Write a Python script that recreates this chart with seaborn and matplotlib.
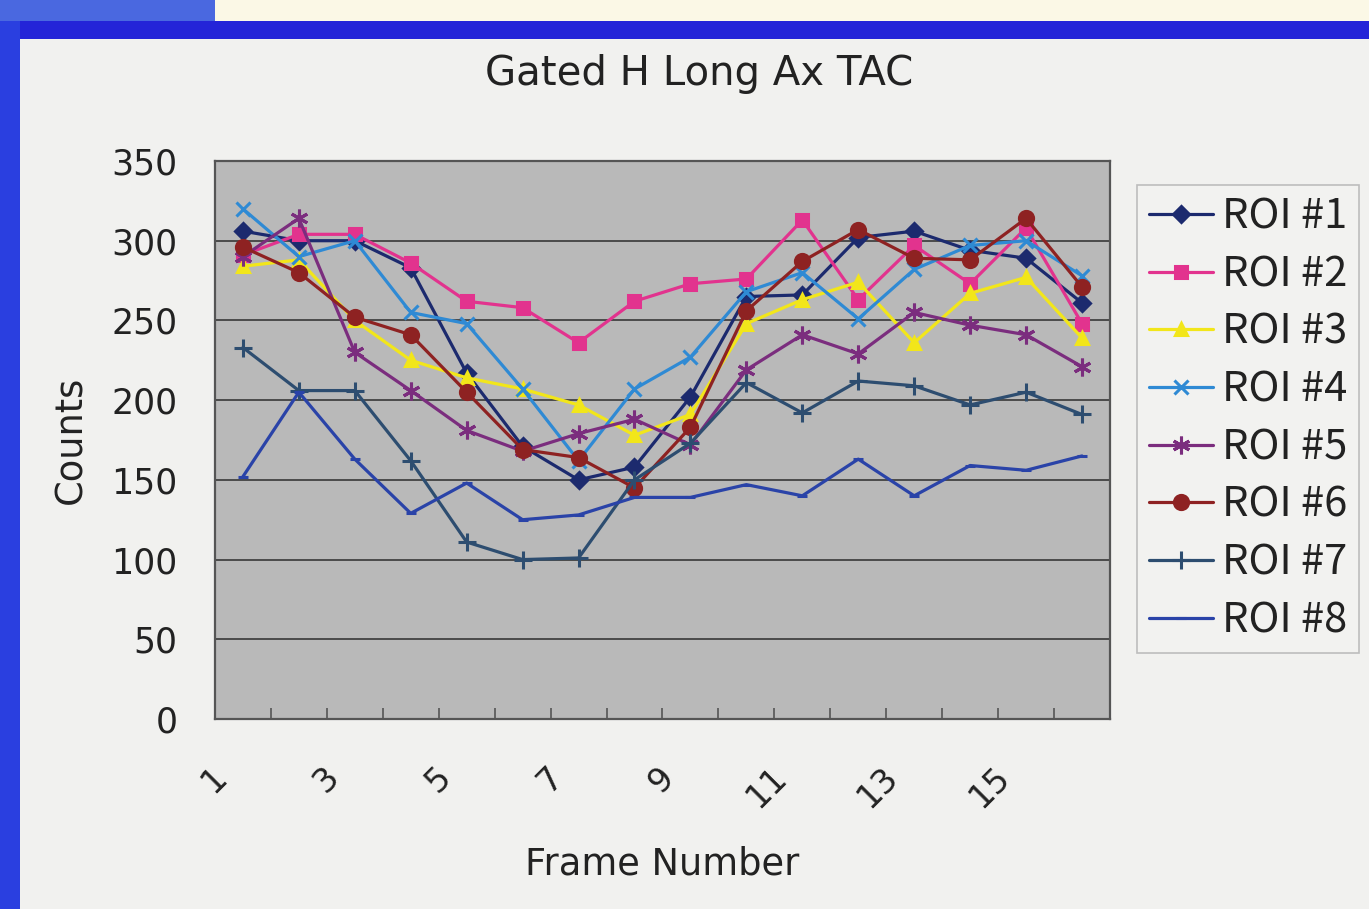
import numpy as np
import pandas as pd
import matplotlib
matplotlib.use("Agg")
import matplotlib.pyplot as plt
import matplotlib.transforms as mtransforms
from matplotlib.patches import Rectangle
import seaborn as sns

frames = list(range(1, 17))
roi1 = [306, 300, 300, 283, 217, 171, 150, 158, 202, 265, 266, 302, 306, 294, 289, 261]
roi2 = [291, 304, 304, 286, 262, 258, 236, 262, 273, 276, 313, 263, 297, 273, 308, 248]
roi3 = [284, 288, 250, 225, 214, 207, 197, 178, 191, 248, 263, 274, 236, 267, 277, 239]
roi4 = [320, 290, 300, 255, 248, 207, 162, 207, 227, 268, 280, 251, 282, 297, 300, 278]
roi5 = [290, 314, 230, 206, 181, 168, 179, 188, 172, 219, 241, 229, 255, 247, 241, 221]
roi6 = [296, 280, 252, 241, 205, 169, 164, 145, 183, 256, 287, 307, 289, 288, 314, 271]
roi7 = [233, 206, 206, 162, 111, 100, 101, 150, 173, 211, 192, 212, 209, 197, 205, 191]
roi8 = [152, 205, 163, 129, 148, 125, 128, 139, 139, 147, 140, 163, 140, 159, 156, 165]
series_names = ["ROI #1", "ROI #2", "ROI #3", "ROI #4", "ROI #5", "ROI #6", "ROI #7", "ROI #8"]
tick_labels = ["1", "3", "5", "7", "9", "11", "13", "15"]

values = [roi1, roi2, roi3, roi4, roi5, roi6, roi7, roi8]
df = pd.DataFrame({
    "Frame": np.tile(frames, len(series_names)),
    "Counts": np.concatenate(values),
    "ROI": np.repeat(series_names, len(frames)),
})

colors = ["#1c2a6e", "#e2338e", "#f2e61a", "#2f8ad4", "#7b2d7e", "#8e2222", "#2d4d70", "#2a43a8"]
markers = ["D", "s", "^", "x", (6, 2, 0), "o", "+", "_"]
msizes = [9, 10, 11, 12, 15, 12, 15, 9]

sns.set_theme(style="white")
plt.rcParams["font.family"] = ["DejaVu Sans"]
legend_font = ["Noto Sans CJK JP", "DejaVu Sans"]

fig = plt.figure(figsize=(13.69, 9.09), dpi=100)
fig.patch.set_facecolor("#f1f1ef")
# screen-capture frame decorations
fig.patches.extend([
    Rectangle((0, 0.975), 1, 0.025, transform=fig.transFigure, facecolor="#fbf8e6", edgecolor="none", zorder=0),
    Rectangle((0, 0.975), 0.157, 0.025, transform=fig.transFigure, facecolor="#4a68e0", edgecolor="none", zorder=0),
    Rectangle((0, 0.957), 1, 0.02, transform=fig.transFigure, facecolor="#2424d8", edgecolor="none", zorder=0),
    Rectangle((0, 0), 0.0146, 0.977, transform=fig.transFigure, facecolor="#2a3fe0", edgecolor="none", zorder=0),
])

ax = fig.add_axes([0.157, 0.209, 0.6538, 0.6139])
ax.set_facecolor("#b9b9b9")

for name, c, m, ms in zip(series_names, colors, markers, msizes):
    sub = df[df["ROI"] == name]
    sns.lineplot(data=sub, x="Frame", y="Counts", color=c, marker=m, markersize=ms,
                 markeredgecolor=c, markerfacecolor=c, markeredgewidth=2.2,
                 linewidth=2.3, label=name, ax=ax)

ax.set_xlim(0.5, 16.5)
ax.set_ylim(0, 350)
ax.set_yticks(np.arange(0, 351, 50))
ax.yaxis.grid(True, color="#4a4a4a", linewidth=1.4)
ax.xaxis.grid(False)
for s in ax.spines.values():
    s.set_color("#555555")
    s.set_linewidth(1.6)

ax.set_xticks([int(t) for t in tick_labels])
ax.set_xticklabels(tick_labels, rotation=45, ha="right", va="center", rotation_mode="anchor")
ax.set_xticks(np.arange(0.5, 17, 1), minor=True)
ax.tick_params(axis="x", which="major", length=0, pad=38, labelsize=24, labelcolor="#222222")
ax.tick_params(axis="x", which="minor", direction="in", length=8, width=1.2, color="#555555", bottom=True)
ax.tick_params(axis="y", which="major", length=0, pad=27, labelsize=25, labelcolor="#222222")
offset = mtransforms.ScaledTranslation(-21 / 100, 0, fig.dpi_scale_trans)
for lbl in ax.get_xticklabels():
    lbl.set_transform(lbl.get_transform() + offset)

ax.set_xlabel("Frame Number", fontsize=26.5, color="#222222")
ax.set_ylabel("Counts", fontsize=26.5, color="#222222")
ax.xaxis.set_label_coords(0.5, -0.226)
ax.yaxis.set_label_coords(-0.14, 0.5)

fig.suptitle("Gated H Long Ax TAC", x=0.511, y=0.919, va="center", fontsize=29, color="#222222")

handles, labels = ax.get_legend_handles_labels()
ax.get_legend().remove()
for h, ms in zip(handles, msizes):
    h.set_markersize(ms * 0.85)
leg = fig.legend(handles, labels, loc="upper left", bbox_to_anchor=(0.8305, 0.7965),
                 bbox_transform=fig.transFigure, frameon=True,
                 prop={"family": legend_font, "size": 30},
                 handlelength=1.55, handletextpad=0.2, labelspacing=0.40,
                 borderpad=0.28, borderaxespad=0, fancybox=False)
leg.get_frame().set_edgecolor("#b0b0b0")
leg.get_frame().set_facecolor("#f3f3f1")
leg.get_frame().set_linewidth(1.2)
for t in leg.get_texts():
    t.set_color("#222222")

fig.savefig("out.png", dpi=100, facecolor=fig.get_facecolor())
